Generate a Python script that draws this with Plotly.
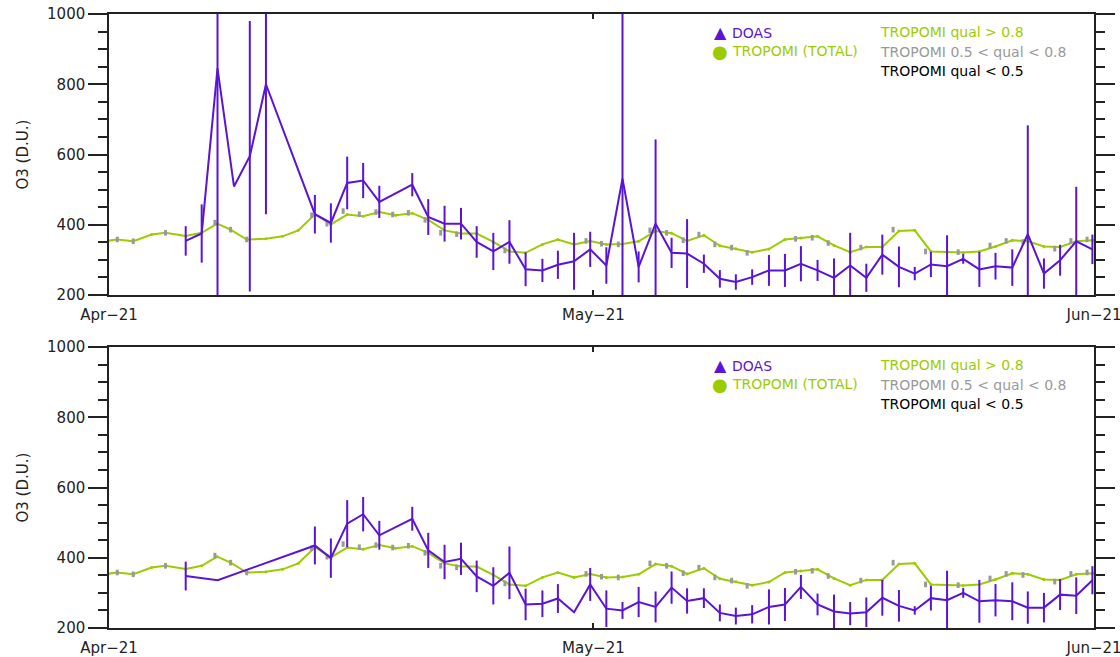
import datetime as dt
import plotly.graph_objects as go

# ---------------------------------------------------------------------------
# Data (days counted from 2021-04-01 00:00)
# ---------------------------------------------------------------------------
START = dt.datetime(2021, 4, 1)

# TROPOMI total column (green line)
trop_day = [-0.45, 0.51, 1.5, 2.64, 3.5, 4.75, 5.74, 6.7, 7.53, 8.53, 9.72, 10.75,
            11.72, 12.75, 13.74, 14.75, 15.74, 16.74, 17.75, 18.78, 19.77, 20.78,
            21.8, 22.77, 23.8, 24.8, 25.8, 26.84, 27.8, 28.8, 29.8, 30.8, 31.8,
            32.8, 33.85, 34.84, 35.8, 36.84, 37.83, 38.82, 39.83, 40.87, 41.86,
            42.85, 43.88, 44.9, 45.9, 46.9, 47.89, 48.92, 49.9, 50.9, 51.9, 52.9,
            53.9, 54.9, 55.94, 56.9, 57.9, 58.9, 59.9, 60.9, 61.5]
trop_total = [352, 358, 353, 372, 377, 368, 377, 403, 386, 358, 360, 367,
              384, 430, 401, 429, 424, 436, 427, 433, 414, 384,
              375, 375, 351, 324, 320, 344, 358, 344, 354, 344, 345,
              353, 382, 376, 354, 370, 340, 332, 322, 331, 358,
              362, 367, 341, 322, 337, 337, 382, 384, 324, 322, 321,
              324, 338, 356, 353, 338, 337, 353, 356, 352]

# TROPOMI pixels with 0.5 < qual < 0.8 (grey dots)
mid_day = [0.51, 1.5, 3.5, 6.56, 7.53, 8.53, 12.55, 13.5, 14.5, 15.5, 16.53, 17.57,
           18.54, 19.57, 20.54, 21.53, 24.52, 29.54, 30.5, 31.54, 33.5, 34.53,
           35.56, 36.53, 37.52, 38.56, 39.52, 42.52, 43.55, 44.54, 46.56, 48.56,
           50.57, 52.59, 54.56, 55.56, 56.6, 58.57, 59.57, 60.57]
mid_val = [358, 353, 377, 406, 386, 358, 427, 403, 439, 430, 436, 429,
           434, 414, 377, 373, 327, 354, 346, 344, 384, 377,
           356, 372, 344, 335, 320, 360, 363, 348, 335, 386,
           324, 322, 341, 354, 351, 332, 354, 358]

# DOAS, upper panel
doas_day_a = [4.75, 5.74, 6.72, 7.74, 8.72, 9.72, 12.75, 13.74, 14.75, 15.74, 16.74,
              18.78, 19.77, 20.78, 21.8, 22.77, 23.8, 24.8, 25.8, 26.84, 27.8,
              28.8, 29.8, 30.8, 31.8, 32.8, 33.85, 34.84, 35.8, 36.84, 37.83,
              38.82, 39.83, 40.87, 41.86, 42.85, 43.88, 44.9, 45.9, 46.9, 47.89,
              48.92, 49.9, 50.9, 51.9, 52.9, 53.9, 54.9, 55.94, 56.9, 57.9,
              58.9, 59.9, 60.9]
doas_val_a = [354, 375, 845, 509, 595, 800, 430, 405, 519, 526, 465,
              514, 422, 403, 403, 351, 324, 351, 273, 270, 286,
              296, 330, 284, 531, 280, 403, 320, 318, 289, 246,
              237, 251, 270, 270, 289, 270, 249, 284, 249, 315,
              280, 261, 287, 282, 303, 273, 282, 278, 373, 261,
              299, 353, 330]
doas_err_a = [42, 83, 700, 0, 385, 370, 55, 56, 75, 50, 46,
              33, 51, 51, 45, 45, 53, 62, 48, 33, 40,
              81, 50, 52, 600, 44, 240, 43, 98, 26, 25,
              22, 22, 44, 47, 50, 30, 55, 93, 40, 57,
              58, 19, 36, 88, 14, 50, 38, 52, 310, 43,
              44, 155, 42]

# DOAS, lower panel
doas_day_b = [4.75, 6.73, 12.75, 13.74, 14.75, 15.74, 16.74, 18.78, 19.77, 20.78,
              21.8, 22.77, 23.8, 24.8, 25.8, 26.84, 27.8, 28.8, 29.8, 30.8,
              31.8, 32.8, 33.85, 34.84, 35.8, 36.84, 37.83, 38.82, 39.83, 40.87,
              41.86, 42.85, 43.88, 44.9, 45.9, 46.9, 47.89, 48.92, 49.9, 50.9,
              51.9, 52.9, 53.9, 54.9, 55.94, 56.9, 57.9, 58.9, 59.9, 60.9]
doas_val_b = [348, 336, 435, 399, 497, 524, 464, 511, 421, 388,
              397, 347, 320, 357, 267, 269, 284, 245, 324, 255,
              250, 274, 260, 315, 277, 285, 243, 234, 239, 260,
              267, 317, 267, 247, 241, 245, 286, 263, 250, 285,
              279, 300, 276, 279, 276, 258, 258, 295, 292, 336]
doas_err_b = [41, 0, 54, 56, 67, 49, 41, 34, 50, 49,
              46, 45, 53, 75, 45, 38, 41, 0, 47, 52,
              24, 43, 44, 46, 36, 28, 24, 24, 26, 50,
              47, 34, 31, 48, 33, 42, 51, 45, 12, 35,
              84, 14, 61, 46, 54, 46, 42, 44, 52, 40]

x_tick_dates = ["2021-04-01", "2021-05-01", "2021-06-01"]
x_tick_text = ["Apr\u221221", "May\u221221", "Jun\u221221"]

PURPLE = "#5a14d6"
GREEN = "#9ccc00"
GREY = "#999999"
DARK = "#222222"
FONT = "DejaVu Sans"


def to_time(days):
    return [START + dt.timedelta(days=d) for d in days]


fig = go.Figure()

panels = [("x", "y", doas_day_a, doas_val_a, doas_err_a),
          ("x2", "y2", doas_day_b, doas_val_b, doas_err_b)]

for xa, ya, dd, dv, de in panels:
    fig.add_trace(go.Scatter(
        x=to_time(trop_day), y=trop_total, xaxis=xa, yaxis=ya,
        mode="lines+markers", line=dict(color=GREEN, width=2),
        marker=dict(color=GREEN, size=3), showlegend=False))
    fig.add_trace(go.Scatter(
        x=to_time(mid_day), y=mid_val, xaxis=xa, yaxis=ya, mode="markers",
        marker=dict(symbol="line-ns", size=4, color=GREY,
                    line=dict(color=GREY, width=3)),
        showlegend=False))
    fig.add_trace(go.Scatter(
        x=to_time(dd), y=dv, xaxis=xa, yaxis=ya, mode="lines",
        line=dict(color=PURPLE, width=2),
        error_y=dict(type="data", array=de, visible=True, width=0,
                     thickness=2, color=PURPLE),
        showlegend=False))

# Panel geometry (pixels): plot area x 109..1094, top panel y 14..295, bottom y 347..628
W, H = 1120, 657
ML, MR, MT, MB = 109, 26, 14, 29
PW = W - ML - MR
PH = H - MT - MB


def px_x(px):
    return (px - ML) / PW


def px_y(py):
    return 1 - (py - MT) / PH


common_x = dict(
    type="date", range=["2021-04-01", "2021-06-01"],
    tickvals=x_tick_dates, ticktext=x_tick_text,
    ticks="inside", ticklen=5, tickwidth=1.5, tickcolor=DARK,
    showline=True, linewidth=1.5, linecolor=DARK, mirror="ticks",
    showgrid=False, zeroline=False, ticklabeloverflow="allow",
    ticklabelstandoff=5, automargin=False,
    tickfont=dict(family=FONT, size=15, color=DARK),
)
common_y = dict(
    range=[200, 1000], tickvals=[200, 400, 600, 800, 1000],
    ticks="outside", ticklen=19, tickwidth=1.5, tickcolor=DARK,
    minor=dict(dtick=50, ticklen=9, tickwidth=1.5, tickcolor=DARK, ticks="outside"),
    showline=True, linewidth=1.5, linecolor=DARK, mirror="ticks",
    showgrid=False, zeroline=False, automargin=False,
    tickfont=dict(family=FONT, size=15, color=DARK),
)

fig.update_layout(
    width=W, height=H, autosize=False,
    margin=dict(l=ML, r=MR, t=MT, b=MB, pad=0, autoexpand=False),
    paper_bgcolor="white", plot_bgcolor="white",
    xaxis=dict(domain=[0, 1], anchor="y", **common_x),
    yaxis=dict(domain=[px_y(295), 1], anchor="x", **common_y),
    xaxis2=dict(domain=[0, 1], anchor="y2", **common_x),
    yaxis2=dict(domain=[0, px_y(347)], anchor="x2", **common_y),
    showlegend=False,
)

annotations = []
for dy, (top, bot) in zip([0, 333], [(14, 295), (347, 628)]):
    annotations.append(dict(
        x=px_x(22), y=px_y((top + bot) / 2), xref="paper", yref="paper",
        text="O3 (D.U.)", textangle=-90, showarrow=False,
        xanchor="center", yanchor="middle",
        font=dict(family=FONT, size=15, color=DARK)))
    legend_rows = [
        (720, 32, "\u25b2", PURPLE, "center", 16),
        (720, 51, "\u25cf", GREEN, "center", 18),
        (730, 33, "DOAS", PURPLE, "left", 14),
        (730, 51, "TROPOMI (TOTAL)", GREEN, "left", 14),
        (878, 32, "TROPOMI qual > 0.8", GREEN, "left", 14),
        (878, 52, "TROPOMI 0.5 < qual < 0.8", GREY, "left", 14),
        (878, 71, "TROPOMI qual < 0.5", "#000000", "left", 14),
    ]
    for px, py, txt, col, anc, fs in legend_rows:
        annotations.append(dict(
            x=px_x(px), y=px_y(py + dy), xref="paper", yref="paper",
            text=txt, showarrow=False, xanchor=anc, yanchor="middle",
            font=dict(family=FONT, size=fs, color=col)))

fig.update_layout(annotations=annotations)

fig.write_html("out.html")
